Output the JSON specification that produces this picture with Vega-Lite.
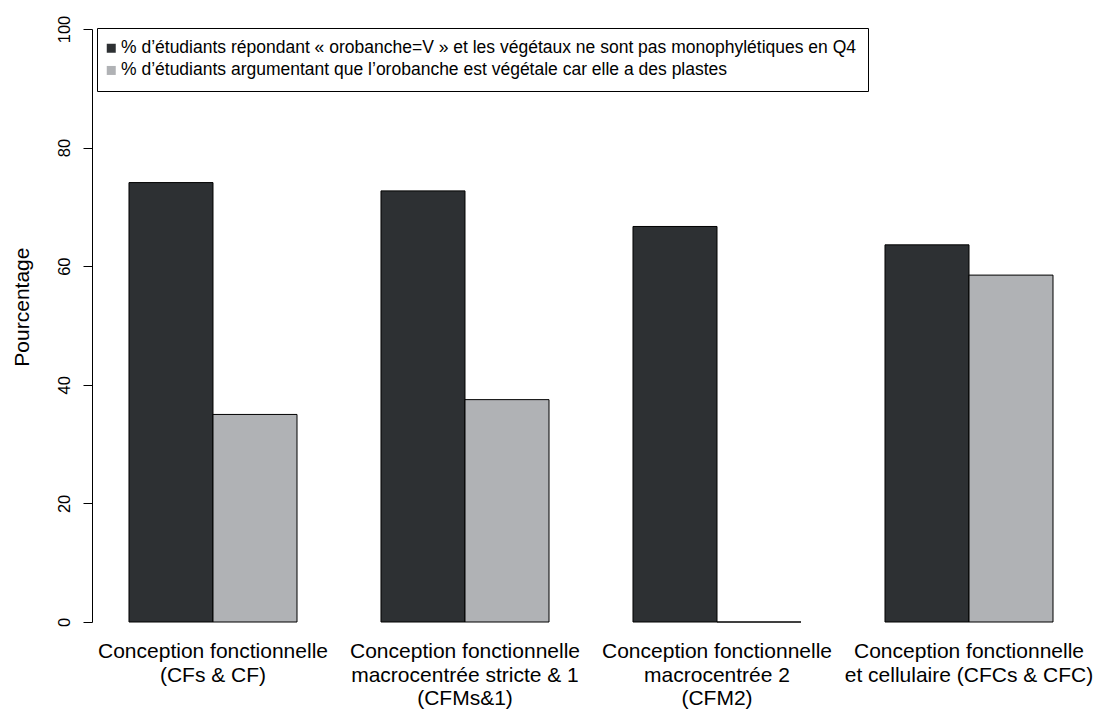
{
  "$schema": "https://vega.github.io/schema/vega-lite/v6.json",
  "width": 998,
  "height": 593,
  "autosize": {"type": "none"},
  "padding": {"left": 92, "top": 29, "right": 5, "bottom": 91},
  "background": "white",
  "config": {
    "view": {"stroke": null},
    "font": "Liberation Sans"
  },
  "data": {
    "values": [
      {"groupe": "Conception fonctionnelle|(CFs & CF)", "serie": "% d’étudiants répondant « orobanche=V » et les végétaux ne sont pas monophylétiques en Q4", "pourcentage": 74.1},
      {"groupe": "Conception fonctionnelle|(CFs & CF)", "serie": "% d’étudiants argumentant que l’orobanche est végétale car elle a des plastes", "pourcentage": 35.0},
      {"groupe": "Conception fonctionnelle|macrocentrée stricte & 1|(CFMs&1)", "serie": "% d’étudiants répondant « orobanche=V » et les végétaux ne sont pas monophylétiques en Q4", "pourcentage": 72.7},
      {"groupe": "Conception fonctionnelle|macrocentrée stricte & 1|(CFMs&1)", "serie": "% d’étudiants argumentant que l’orobanche est végétale car elle a des plastes", "pourcentage": 37.5},
      {"groupe": "Conception fonctionnelle|macrocentrée 2|(CFM2)", "serie": "% d’étudiants répondant « orobanche=V » et les végétaux ne sont pas monophylétiques en Q4", "pourcentage": 66.7},
      {"groupe": "Conception fonctionnelle|macrocentrée 2|(CFM2)", "serie": "% d’étudiants argumentant que l’orobanche est végétale car elle a des plastes", "pourcentage": 0},
      {"groupe": "Conception fonctionnelle|et cellulaire (CFCs & CFC)", "serie": "% d’étudiants répondant « orobanche=V » et les végétaux ne sont pas monophylétiques en Q4", "pourcentage": 63.6},
      {"groupe": "Conception fonctionnelle|et cellulaire (CFCs & CFC)", "serie": "% d’étudiants argumentant que l’orobanche est végétale car elle a des plastes", "pourcentage": 58.5}
    ]
  },
  "mark": {"type": "bar", "stroke": "black", "strokeWidth": 1},
  "encoding": {
    "x": {
      "field": "groupe",
      "type": "nominal",
      "sort": null,
      "scale": {"paddingInner": 0.3333, "paddingOuter": 0.1468},
      "axis": {
        "title": null,
        "domain": false,
        "ticks": false,
        "labelAngle": 0,
        "labelFontSize": 21,
        "labelColor": "black",
        "labelPadding": 18.5,
        "labelBaseline": "top",
        "labelLineHeight": 23.5,
        "labelLimit": 0,
        "labelExpr": "split(datum.label, '|')"
      }
    },
    "xOffset": {
      "field": "serie",
      "type": "nominal",
      "sort": null,
      "scale": {"paddingInner": 0, "paddingOuter": 0}
    },
    "y": {
      "field": "pourcentage",
      "type": "quantitative",
      "scale": {"domain": [0, 100], "nice": false, "zero": true},
      "axis": {
        "values": [0, 20, 40, 60, 80, 100],
        "grid": false,
        "domainColor": "black",
        "tickColor": "black",
        "tickSize": 9,
        "labelColor": "black",
        "labelFontSize": 16.5,
        "labelAngle": 270,
        "labelAlign": "center",
        "labelBaseline": "alphabetic",
        "labelPadding": 13.5,
        "title": "Pourcentage",
        "titleFontSize": 21,
        "titleFontWeight": "normal",
        "titleColor": "black",
        "titleAngle": 270,
        "titleAlign": "center",
        "titleBaseline": "alphabetic",
        "titleX": -64,
        "titleY": 277.6
      }
    },
    "fill": {
      "field": "serie",
      "type": "nominal",
      "sort": null,
      "scale": {
        "domain": [
          "% d’étudiants répondant « orobanche=V » et les végétaux ne sont pas monophylétiques en Q4",
          "% d’étudiants argumentant que l’orobanche est végétale car elle a des plastes"
        ],
        "range": ["#2d3033", "#b0b2b5"]
      },
      "legend": {
        "title": null,
        "orient": "none",
        "legendX": 5,
        "legendY": -1,
        "strokeColor": "black",
        "fillColor": "white",
        "padding": 11.5,
        "rowPadding": 3.2,
        "symbolType": "square",
        "symbolSize": 81,
        "symbolStrokeWidth": 0,
        "symbolOffset": -6,
        "labelFontSize": 17.5,
        "labelColor": "black",
        "labelLimit": 0,
        "labelOffset": 1
      }
    }
  }
}
